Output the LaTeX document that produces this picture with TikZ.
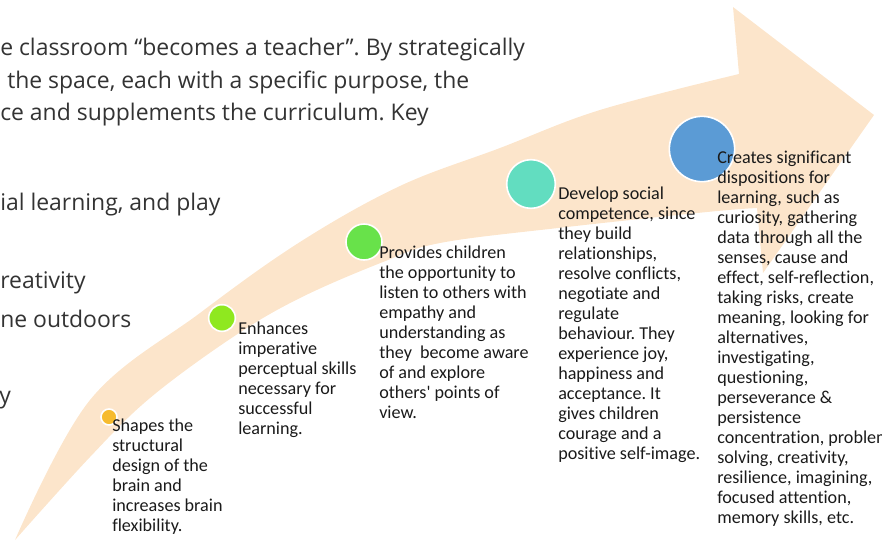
\documentclass[tikz,border=0pt]{standalone}
\usepackage{fontspec}
\setmainfont{Carlito}[Ligatures=NoCommon]
\newfontfamily\pagefont{Open Sans}
\usetikzlibrary{positioning}
\frenchspacing

\definecolor{bandcolor}{HTML}{FCE5CB}
\definecolor{notegray}{HTML}{1A1A1A}
\definecolor{pagegray}{HTML}{333333}
\definecolor{dotorange}{HTML}{F6BB2E}
\definecolor{dotlime}{HTML}{8FE81F}
\definecolor{dotgreen}{HTML}{68E24A}
\definecolor{dotteal}{HTML}{62DDC0}
\definecolor{dotblue}{HTML}{5B9BD5}

\begin{document}
\begin{tikzpicture}[x=0.75pt,y=-0.75pt]
    % settings for this picture
    \tikzset{
      dot/.style={circle, draw=white, line width=1.2pt, inner sep=0pt},
      note/.style={anchor=north west, align=left, inner sep=0pt,
        font=\fontsize{13.6pt}{15pt}\selectfont, text=notegray},
      pageline/.style={anchor=base west, inner sep=0pt,
        font=\pagefont\fontsize{17.2pt}{20pt}\selectfont, text=pagegray},
    }
    \useasboundingbox (0,0) rectangle (882,550);

    % page text behind the figure
    \node[pageline] (l1) at (0,55) {e classroom “becomes a teacher”. By strategically};
    \node[pageline] (l2) at (7,88) {the space, each with a specific purpose, the};
    \node[pageline] (l3) at (0,120) {ce and supplements the curriculum. Key};
    \node[pageline] (l4) at (0,210) {ial learning, and play};
    \node[pageline] (l5) at (0,288) {reativity};
    \node[pageline] (l6) at (0,327) {ne outdoors};
    \node[pageline] (l7) at (-1,403) {y};

    % curved arrow
    \fill[bandcolor]
      plot[smooth, tension=0.6] coordinates {(15,540) (90,400) (200,313)
        (300,242) (400,186) (500,148) (600,110) (739,74)}
      -- (733,7) -- (874,115) -- (763,273) -- (757,208)
      -- plot[smooth, tension=0.6] coordinates {(757,208) (707,212)
        (558,228) (440,243) (383,262) (300,298) (233,337) (150,398)
        (90,457) (15,540)}
      -- cycle;

    % dots
    \node[dot, fill=dotorange, minimum size=12pt] (p1) at (109,417) {};
    \node[dot, fill=dotlime, minimum size=20pt] (p2) at (222,318) {};
    \node[dot, fill=dotgreen, minimum size=27pt] (p3) at (364,242) {};
    \node[dot, fill=dotteal, minimum size=36.5pt] (p4) at (531,184) {};
    \node[dot, fill=dotblue, minimum size=49pt] (p5) at (702,149) {};

    % notes
    \node[note] (t1) at (112,419) {Shapes the\\structural\\design of the\\brain and\\increases brain\\flexibility.};
    \node[note] (t2) at (238,322) {Enhances\\imperative\\perceptual skills\\necessary for\\successful\\learning.};
    \node[note] (t3) at (379,246) {Provides children\\the opportunity to\\listen to others with\\empathy and\\understanding as\\they\ \ become aware\\of and explore\\others\textquotesingle{} points of\\view.};
    \node[note] (t4) at (558,187) {Develop social\\competence, since\\they build\\relationships,\\resolve conflicts,\\negotiate and\\regulate\\behaviour. They\\experience joy,\\happiness and\\acceptance. It\\gives children\\courage and a\\positive self-image.};
    \node[note] (t5) at (717,151) {Creates significant\\dispositions for\\learning, such as\\curiosity, gathering\\data through all the\\senses, cause and\\effect, self-reflection,\\taking risks, create\\meaning, looking for\\alternatives,\\investigating,\\questioning,\\perseverance \&\\persistence\\concentration, problem\\solving, creativity,\\resilience, imagining,\\focused attention,\\memory skills, etc.};

  \end{tikzpicture}
\end{document}
